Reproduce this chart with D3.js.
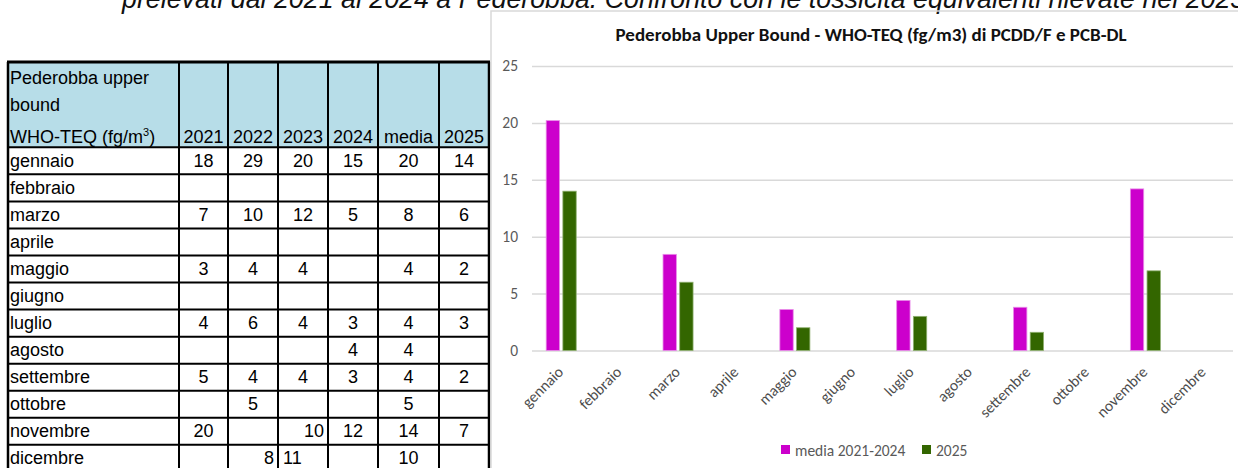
<!DOCTYPE html>
<html>
<head>
<meta charset="utf-8">
<script src="https://cdn.jsdelivr.net/npm/d3@7"></script>
<style>
  body { margin: 0; background: #fff; }
  svg { display: block; }
</style>
</head>
<body>
<svg width="1238" height="468"></svg>
<script>
// dati
const months = ['gennaio', 'febbraio', 'marzo', 'aprile', 'maggio', 'giugno',
  'luglio', 'agosto', 'settembre', 'ottobre', 'novembre', 'dicembre']
const tableCols = ['2021', '2022', '2023', '2024', 'media', '2025']
const v2021 = [18, null, 7, null, 3, null, 4, null, 5, null, 20, null]
const v2022 = [29, null, 10, null, 4, null, 6, null, 4, 5, null, 8]
const v2023 = [20, null, 12, null, 4, null, 4, null, 4, null, 10, 11]
const v2024 = [15, null, 5, null, null, null, 3, 4, 3, null, 12, null]
const vMedia = [20, null, 8, null, 4, null, 4, 4, 4, 5, 14, 10]
const v2025 = [14, null, 6, null, 2, null, 3, null, 2, null, 7, null]

const seriesNames = ['media 2021-2024', '2025']
const chartMedia = [20.2, null, 8.45, null, 3.6, null, 4.4, null, 3.8, null, 14.2, null]
const chart2025 = [14, null, 6, null, 2, null, 3, null, 1.6, null, 7, null]
const yTicks = [0, 5, 10, 15, 20, 25]

const svg = d3.select('svg')
const colors = ['#cc00cc', '#336600']
const calibri = 'Carlito, Lato, sans-serif'
const arial = '"Liberation Sans", Arial, sans-serif'
const tfs = 18

// testo di intestazione (tagliato in alto)
svg.append('text')
  .attr('x', 122).attr('y', 8)
  .attr('font-family', arial).attr('font-style', 'italic').attr('font-size', 26.8)
  .attr('fill', '#111')
  .text('prelevati dal 2021 al 2024 a Pederobba. Confronto con le tossicità equivalenti rilevate nel 2025')

// ---- tabella ----
const colWidths = [171, 49, 50, 50, 50, 61, 50]
const colX = [8]
colWidths.forEach((w, i) => colX.push(colX[i] + w))
const headTop = 62, headBottom = 147.3
const rowY = d3.scaleBand().domain(months).range([headBottom, headBottom + 12 * 27.05])

const tbl = svg.append('g')
tbl.append('rect')
  .attr('x', colX[0]).attr('y', headTop)
  .attr('width', colX[7] - colX[0]).attr('height', headBottom - headTop)
  .attr('fill', '#b7dde8')

const headLines = ['Pederobba upper', 'bound']
tbl.selectAll('.hl').data(headLines).enter().append('text')
  .attr('x', 10).attr('y', (d, i) => 84 + i * 27)
  .attr('font-family', arial).attr('font-size', tfs)
  .text(d => d)
const who = tbl.append('text').attr('x', 10).attr('y', 143)
  .attr('font-family', arial).attr('font-size', tfs)
who.append('tspan').text('WHO-TEQ (fg/m')
who.append('tspan').attr('dy', -7).attr('font-size', 11).text('3')
who.append('tspan').attr('dy', 7).text(')')

tbl.selectAll('.yh').data(tableCols).enter().append('text')
  .attr('x', (d, i) => (colX[i + 1] + colX[i + 2]) / 2)
  .attr('y', 143)
  .attr('text-anchor', 'middle')
  .attr('font-family', arial).attr('font-size', tfs)
  .text(d => d)

tbl.selectAll('.mn').data(months).enter().append('text')
  .attr('x', 10).attr('y', d => rowY(d) + rowY.bandwidth() - 7.5)
  .attr('font-family', arial).attr('font-size', tfs)
  .text(d => d)

const tableVals = [v2021, v2022, v2023, v2024, vMedia, v2025]
const oddAlign = { 'novembre|2023': 'end', 'dicembre|2022': 'end', 'dicembre|2023': 'start' }
const cells = []
tableVals.forEach((arr, c) => arr.forEach((v, r) => {
  if (v !== null) cells.push({ c, r, v, al: oddAlign[months[r] + '|' + tableCols[c]] || 'middle' })
}))
tbl.selectAll('.cv').data(cells).enter().append('text')
  .attr('x', d => d.al === 'end' ? colX[d.c + 2] - 4 : d.al === 'start' ? colX[d.c + 1] + 5 : (colX[d.c + 1] + colX[d.c + 2]) / 2)
  .attr('y', d => rowY(months[d.r]) + rowY.bandwidth() - 7.5)
  .attr('text-anchor', d => d.al)
  .attr('font-family', arial).attr('font-size', tfs)
  .text(d => d.v)

// griglia della tabella
const tableBottom = headBottom + 12 * 27.05
tbl.selectAll('.vl').data(colX).enter().append('line')
  .attr('x1', d => d).attr('x2', d => d)
  .attr('y1', headTop).attr('y2', tableBottom)
  .attr('stroke', '#000').attr('stroke-width', (d, i) => i === 0 || i === 7 ? 2.5 : 2)
const hLines = [headTop, headBottom].concat(months.map(m => rowY(m) + rowY.bandwidth()))
tbl.selectAll('.hln').data(hLines).enter().append('line')
  .attr('x1', colX[0] - 1).attr('x2', colX[7] + 1)
  .attr('y1', d => d).attr('y2', d => d)
  .attr('stroke', '#000').attr('stroke-width', (d, i) => i === 0 ? 3 : 2)

// ---- grafico ----
svg.append('path')
  .attr('d', 'M491,468V11H1238')
  .attr('fill', 'none').attr('stroke', '#d9d9d9').attr('stroke-width', 1.5)

svg.append('text')
  .attr('x', 871).attr('y', 41)
  .attr('text-anchor', 'middle')
  .attr('font-family', calibri).attr('font-weight', 'bold').attr('font-size', 19)
  .attr('fill', '#111')
  .text('Pederobba Upper Bound - WHO-TEQ (fg/m3) di PCDD/F e PCB-DL')

const margin = { left: 532, right: 1233, top: 66, bottom: 350.5 }
const y = d3.scaleLinear().domain([0, 25]).range([margin.bottom, margin.top])
const x0 = d3.scaleBand().domain(months).range([margin.left, margin.right])
  .paddingInner(0.486).paddingOuter(0.243)
const x1 = d3.scaleBand().domain(seriesNames).range([0, x0.bandwidth()]).paddingInner(0.2)

const g = svg.append('g')
const yAxis = d3.axisLeft(y).tickValues(yTicks).tickSize(-(margin.right - margin.left)).tickPadding(14)
g.append('g').attr('transform', `translate(${margin.left},0)`).call(yAxis)
  .call(a => a.select('.domain').remove())
  .call(a => a.selectAll('line').attr('stroke', '#d9d9d9').attr('stroke-width', 1.5))
  .call(a => a.selectAll('text').attr('fill', '#595959').attr('font-family', calibri).attr('font-size', 15.5))

const barData = []
months.forEach((m, i) => {
  [chartMedia, chart2025].forEach((arr, s) => {
    if (arr[i] !== null) barData.push({ m, s, v: arr[i] })
  })
})
g.selectAll('rect.bar').data(barData).enter().append('rect')
  .attr('class', 'bar')
  .attr('x', d => x0(d.m) + x1(seriesNames[d.s]))
  .attr('y', d => y(d.v))
  .attr('width', x1.bandwidth())
  .attr('height', d => y(0) - y(d.v))
  .attr('fill', d => colors[d.s])
  .attr('stroke', d => d.s === 0 ? '#e88ce8' : '#8fb070')
  .attr('stroke-width', 0.8)

g.selectAll('.xl').data(months).enter().append('text')
  .attr('transform', d => `translate(${x0(d) + x0.bandwidth() / 2 + 3},373) rotate(-45)`)
  .attr('text-anchor', 'end')
  .attr('font-family', calibri).attr('font-size', 15.5)
  .attr('fill', '#4d4d4d')
  .text(d => d)

// legenda
const legX = [781, 922]
const leg = g.selectAll('.lg').data(seriesNames).enter().append('g')
  .attr('transform', (d, i) => `translate(${legX[i]},445)`)
leg.append('rect').attr('width', 9).attr('height', 9).attr('fill', (d, i) => colors[i])
leg.append('text').attr('x', 14).attr('y', 10.5)
  .attr('font-family', calibri).attr('font-size', 15.5).attr('fill', '#595959')
  .text(d => d)
</script>
</body>
</html>
